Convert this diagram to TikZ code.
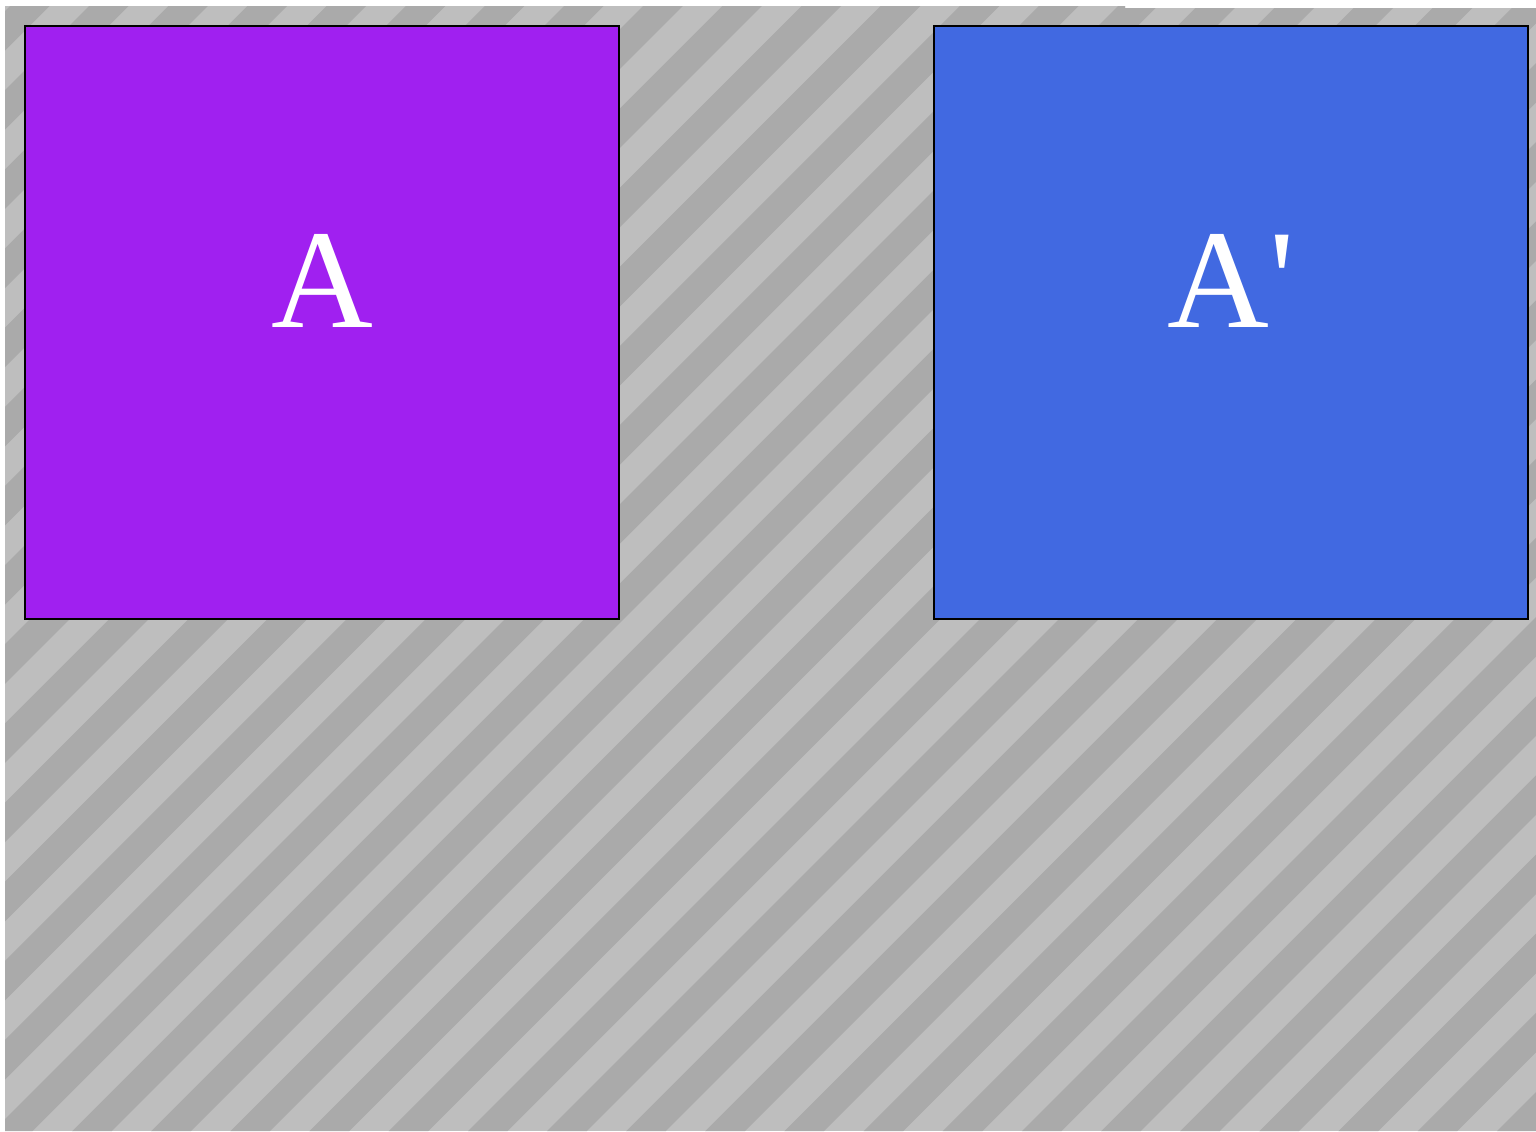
\documentclass[tikz,border=0pt]{standalone}
\usepackage{fontspec}
\newfontfamily\labelfont{Liberation Serif}
\definecolor{stripelight}{HTML}{BEBEBE}
\definecolor{stripedark}{HTML}{AAAAAA}
\definecolor{boxpurple}{HTML}{A020F0}
\definecolor{boxblue}{HTML}{4169E1}
\tikzset{
  squarebox/.style={draw=black, line width=0.6pt, minimum width=297pt, minimum height=296.5pt, inner sep=0pt, outer sep=0pt},
  biglabel/.style={text=white, inner sep=0pt, anchor=base, font=\labelfont\fontsize{70.5}{70.5}\selectfont},
  darkstripe/.style={draw=stripedark, line width=13.99pt}
}
\begin{document}
\begin{tikzpicture}[x=0.5pt, y=-0.5pt]
  \useasboundingbox (0,0) rectangle (1536,1131);
  % striped background
  \begin{scope}
    \path[clip] (5,6) -- (1125,6) -- (1125,8) -- (1536,8) -- (1536,1131) -- (5,1131) -- cycle;
    \fill[stripelight] (0,0) rectangle (1536,1131);
    \foreach \k in {-9,...,27} {
      \pgfmathsetmacro\c{669+79.15*\k}
      \draw[darkstripe] (\c+100,-100) -- (\c-1300,1300);
    }
  \end{scope}
  % squares
  \node[squarebox, fill=boxpurple] (boxA) at (322,322.5) {};
  \node[squarebox, fill=boxblue] (boxB) at (1231,322.5) {};
  % labels
  \node[biglabel] (labA) at (322,327) {A};
  \node[biglabel] (labB) at (1231,327) {A'};
\end{tikzpicture}
\end{document}
